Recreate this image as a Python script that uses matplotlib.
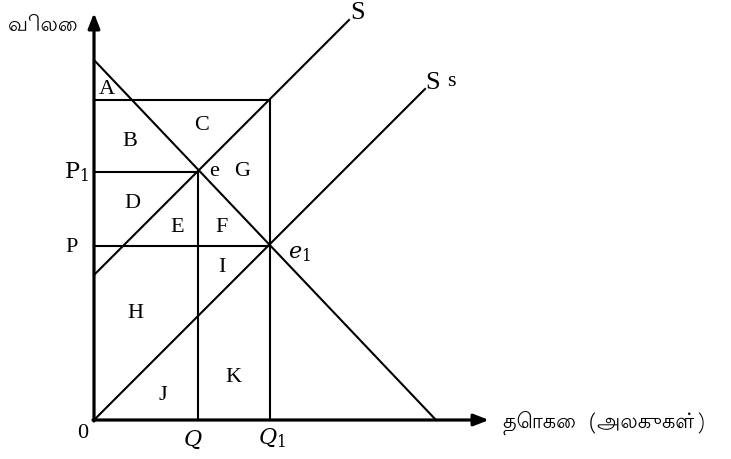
import matplotlib
matplotlib.use("Agg")
import matplotlib.pyplot as plt

# axis and curve end points (origin at 0)
demand_x = [0, 342]
demand_y = [360, 0]
supply_x = [0, 255]
supply_y = [145, 400]
subsidy_x = [0, 331]
subsidy_y = [0, 331]

# equilibrium quantities and prices
Q, Q1 = 104, 176
P, P1 = 174, 248
p_top = 320

area_labels = ["A", "B", "C", "D", "E", "F", "G", "H", "I", "J", "K"]
area_x = [13, 36, 108, 38, 83, 128, 148, 41, 128, 69, 139]
area_y = [330, 278, 294, 217, 193, 193, 249, 107, 153, 25, 42]

tamil = ['Lohit Tamil', 'Noto Sans Tamil', 'DejaVu Sans']
serif = 'Liberation Serif'
fs = 16

fig = plt.figure(figsize=(7.31, 4.59), dpi=100)
ax = fig.add_axes([0, 0, 1, 1])
ax.set_xlim(-94, 731 - 94)
ax.set_ylim(-39, 420)
ax.axis('off')

lw = 1.5
# axes with arrows
ax.annotate("", xy=(0, 407), xytext=(0, -1),
            arrowprops=dict(arrowstyle="-|>,head_width=0.35,head_length=0.9", lw=2.3, color='black', shrinkA=0, shrinkB=0))
ax.annotate("", xy=(395, 0), xytext=(-1, 0),
            arrowprops=dict(arrowstyle="-|>,head_width=0.35,head_length=0.9", lw=2.3, color='black', shrinkA=0, shrinkB=0))

ax.plot(demand_x, demand_y, color='black', lw=lw)
ax.plot(supply_x, supply_y, color='black', lw=lw)
ax.plot(subsidy_x, subsidy_y, color='black', lw=lw)

ax.plot([0, Q1, Q1], [p_top, p_top, 0], color='black', lw=lw)
ax.plot([0, Q, Q], [P1, P1, 0], color='black', lw=lw)
ax.plot([0, Q1], [P, P], color='black', lw=lw)

for t, x, y in zip(area_labels, area_x, area_y):
    ax.text(x, y, t, fontsize=fs, family=serif, ha='center', va='center')

ax.text(120, 248, "e", fontsize=fs, family=serif, ha='center', va='center')
ax.text(-18, 248, r"$\mathrm{P}_1$", fontsize=fs, ha='center', va='center',
        math_fontfamily='dejavuserif')
ax.text(-22, 173, "P", fontsize=fs, family=serif, ha='center', va='center')
ax.text(-11, -13, "0", fontsize=fs, family=serif, ha='center', va='center')
ax.text(Q - 5, -20, r"$Q$", fontsize=fs, ha='center', va='center', math_fontfamily='dejavuserif')
ax.text(Q1 + 2, -18, r"$Q_1$", fontsize=fs, ha='center', va='center', math_fontfamily='dejavuserif')
ax.text(Q1 + 29, 166, r"$e_1$", fontsize=fs, ha='center', va='center', math_fontfamily='dejavuserif')

ax.text(264, 407, "S", fontsize=19, family=serif, ha='center', va='center')
ax.text(339, 337, "S", fontsize=19, family=serif, ha='center', va='center')
ax.text(357, 338, "s", fontsize=16, family=serif, ha='center', va='center')

ax.text(-86, 395, "விலை", fontsize=15, family=tamil, ha='left', va='center', fontweight='bold')
ax.text(409, -3, "தொகை  (அலகுகள்)", fontsize=15, family=tamil, ha='left', va='center', fontweight='bold')

fig.savefig("out.png", dpi=100)
